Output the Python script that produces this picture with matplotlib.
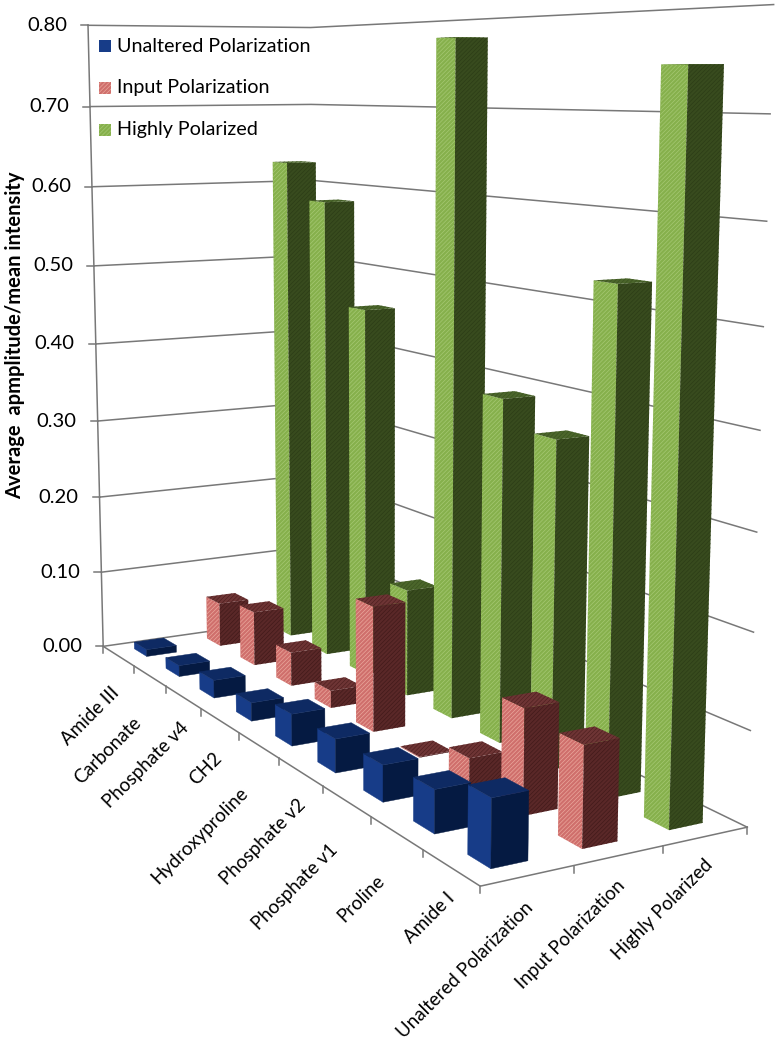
import numpy as np
import matplotlib
matplotlib.use('Agg')
import matplotlib.pyplot as plt
from matplotlib.patches import Polygon, Rectangle

categories = ['Amide III', 'Carbonate', 'Phosphate v4', 'CH2', 'Hydroxyproline',
              'Phosphate v2', 'Phosphate v1', 'Proline', 'Amide I']
series_names = ['Unaltered Polarization', 'Input Polarization', 'Highly Polarized']
unaltered = [0.009, 0.014, 0.022, 0.022, 0.037, 0.038, 0.040, 0.046, 0.070]
input_pol = [0.057, 0.069, 0.042, 0.021, 0.147, 0.001, 0.030, 0.113, 0.105]
highly = [0.627, 0.582, 0.457, 0.13, 0.778, 0.39, 0.361, 0.533, 0.746]
y_ticks = [0.0, 0.1, 0.2, 0.3, 0.4, 0.5, 0.6, 0.7, 0.8]

plt.rcParams['font.family'] = ['Lato', 'DejaVu Sans']
plt.rcParams['hatch.linewidth'] = 0.5

fig = plt.figure(figsize=(7.77, 10.43), dpi=100)
ax = fig.add_axes([0, 0, 1, 1])
ax.set_xlim(0, 777)
ax.set_ylim(1043, 0)
ax.axis('off')

# camera: box corners (category, series, value) -> where they sit on the page
box = [(0, 0, 0), (0, 0, .8), (9, 0, 0), (9, 3, 0), (9, 3, .8), (0, 3, 0), (0, 3, .8)]
page = [(105, 646), (87, 25), (479, 887), (749, 826), (773, 5), (312, 617), (312, 27.5)]
rows = []
for (u, v, z), (px, py) in zip(box, page):
    rows.append([u, v, z, 1, 0, 0, 0, 0, -px*u, -px*v, -px*z, -px])
    rows.append([0, 0, 0, 0, u, v, z, 1, -py*u, -py*v, -py*z, -py])
P = np.linalg.svd(np.array(rows, dtype=float))[2][-1].reshape(3, 4)


def project(u, v, z):
    x, y, w = P @ np.array([u, v, z, 1.0])
    return x/w, y/w


grid = '#787878'
for t in y_ticks:
    a, d, c = project(0, 0, t), project(0, 3, t), project(9, 3, t)
    ax.plot([a[0], d[0], c[0]], [a[1], d[1], c[1]], color=grid, lw=1.1, zorder=1)
    ax.plot([a[0]-7, a[0]], [a[1], a[1]], color=grid, lw=1.1, zorder=1)
    ax.text(a[0]-21, a[1], '%.2f' % t, ha='right', va='center', fontsize=14.5, color='black')
a, a2 = project(0, 0, 0), project(0, 0, .8)
ax.plot([a[0], a2[0]], [a[1], a2[1]], color=grid, lw=1.1, zorder=1)

# floor edges and ticks
edge_pts = [project(0, 0, 0), project(9, 0, 0), project(9, 3, 0)]
ax.plot(*zip(*edge_pts), color=grid, lw=1.1, zorder=1)
for i in range(10):
    p = project(i, 0, 0)
    ax.plot([p[0], p[0]], [p[1], p[1]+7], color=grid, lw=1.1, zorder=1)
for i in range(1, 4):
    p = project(9, i, 0)
    ax.plot([p[0], p[0]], [p[1], p[1]+7], color=grid, lw=1.1, zorder=1)

styles = [
    dict(top='#0e2a63', side='#051a42', front='#173c88', front_h=None, side_h=None, top_h=None),
    dict(top='#6e3535', side='#5a2828', front='#cf6f6c', front_h='#eaa79c', side_h='#421a1a', top_h='#4f2020'),
    dict(top='#4b662b', side='#384b1e', front='#86b04c', front_h='#a5c873', side_h='#2c3d16', top_h='#3b5320'),
]
hatch = '////////'
bar = 0.4
pad = (1 - bar) / 2
values = [unaltered, input_pol, highly]


def face(pts, col, hcol, z):
    if hcol:
        ax.add_patch(Polygon(pts, facecolor=col, edgecolor=hcol, hatch=hatch, lw=0, zorder=z))
    else:
        ax.add_patch(Polygon(pts, facecolor=col, edgecolor=col, lw=0.3, zorder=z))


z = 2
for j in [2, 1, 0]:
    st = styles[j]
    for i in range(len(categories)):
        h = values[j][i]
        u0, u1, v0, v1 = i+pad, i+pad+bar, j+pad, j+pad+bar
        face([project(u0, v0, 0), project(u1, v0, 0), project(u1, v0, h), project(u0, v0, h)],
             st['front'], st['front_h'], z)
        face([project(u1, v0, 0), project(u1, v1, 0), project(u1, v1, h), project(u1, v0, h)],
             st['side'], st['side_h'], z)
        face([project(u0, v0, h), project(u1, v0, h), project(u1, v1, h), project(u0, v1, h)],
             st['top'], st['top_h'], z)
        z += 1

cat_ends = [(116, 690), (138, 720), (186, 725), (219, 755), (245, 790),
            (303, 802), (335, 847), (382, 878), (452, 895)]
ser_ends = [(530, 905), (622, 883), (710, 862)]
for name, (x, y) in zip(categories + series_names, cat_ends + ser_ends):
    ax.text(x, y, name, rotation=45, rotation_mode='anchor', ha='right', va='center',
            fontsize=13.5, color='black')

ax.text(15, 335, 'Average  apmplitude/mean intensity', rotation=90, ha='center', va='center',
        fontsize=14.5, fontweight='bold', color='black')

leg_y = [46, 88, 130]
for name, st, y in zip(series_names, styles, leg_y):
    if st['front_h']:
        ax.add_patch(Rectangle((99, y-6), 12, 12, facecolor=st['front'], edgecolor=st['front_h'],
                               hatch=hatch, lw=0, zorder=500))
    else:
        ax.add_patch(Rectangle((99, y-6), 12, 12, facecolor=st['front'], lw=0, zorder=500))
    ax.text(117, y, name, ha='left', va='center', fontsize=14.2, color='black', zorder=501)

fig.savefig('out.png', dpi=100)
